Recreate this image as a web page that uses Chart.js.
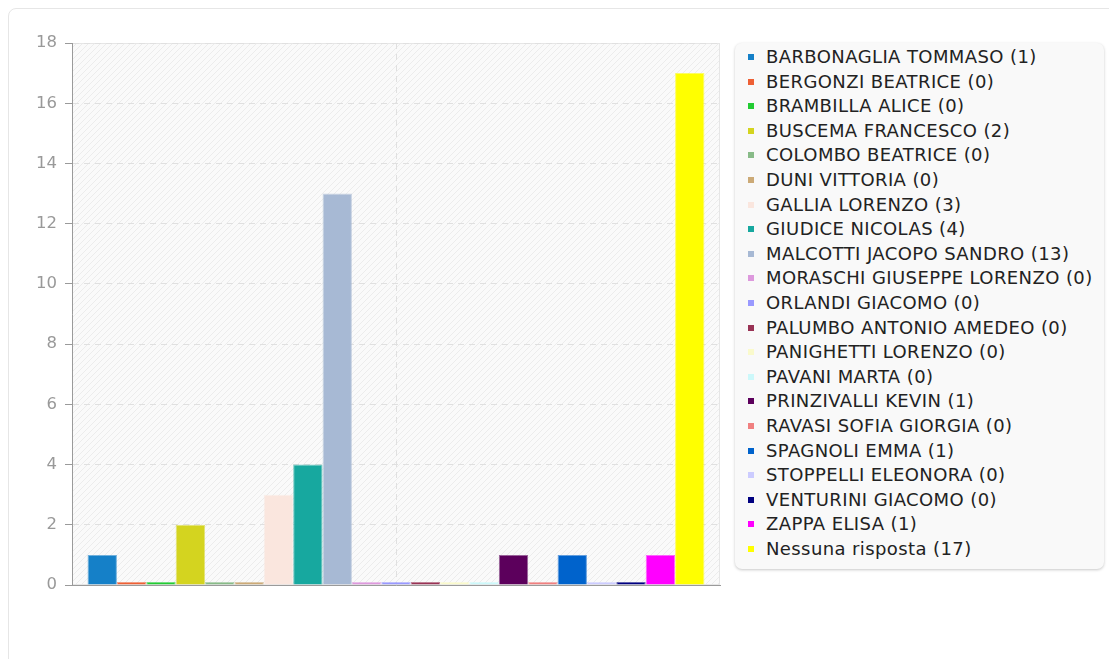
<!DOCTYPE html>
<html>
<head>
<meta charset="utf-8">
<script src="https://cdn.jsdelivr.net/npm/chart.js@4/dist/chart.umd.min.js"></script>
<style>
  html, body { margin: 0; padding: 0; background: #fff; overflow: hidden; }
  body { width: 1109px; height: 659px; position: relative; font-family: "DejaVu Sans", sans-serif; }
  #card {
    position: absolute; left: 8px; top: 8px; width: 1120px; height: 700px;
    border: 1px solid #e6e6e6; border-radius: 8px; box-sizing: border-box;
  }
  #wrap { position: absolute; left: 0; top: 0; width: 730px; height: 640px; }
  #legend {
    position: absolute; left: 735px; top: 43px; width: 369px; height: 526px;
    background: #f9f9f9; border-radius: 7px; box-shadow: 0 1px 3px rgba(0,0,0,0.22);
    box-sizing: border-box; padding-top: 2px;
  }
  .item { position: relative; height: 24.6px; line-height: 24.6px; font-size: 18px; letter-spacing: 0.4px; color: #222; white-space: nowrap; }
  .item .sw { position: absolute; left: 13px; top: 9px; width: 6px; height: 6px; }
  .item .tx { position: absolute; left: 31px; top: 0; }
</style>
</head>
<body>
<div id="card"></div>
<div id="wrap"><canvas id="chart"></canvas></div>
<div id="legend"></div>
<script>
// ---------- Data ----------
const names = [
  'BARBONAGLIA TOMMASO', 'BERGONZI BEATRICE', 'BRAMBILLA ALICE', 'BUSCEMA FRANCESCO',
  'COLOMBO BEATRICE', 'DUNI VITTORIA', 'GALLIA LORENZO', 'GIUDICE NICOLAS',
  'MALCOTTI JACOPO SANDRO', 'MORASCHI GIUSEPPE LORENZO', 'ORLANDI GIACOMO',
  'PALUMBO ANTONIO AMEDEO', 'PANIGHETTI LORENZO', 'PAVANI MARTA', 'PRINZIVALLI KEVIN',
  'RAVASI SOFIA GIORGIA', 'SPAGNOLI EMMA', 'STOPPELLI ELEONORA', 'VENTURINI GIACOMO',
  'ZAPPA ELISA', 'Nessuna risposta'
];
const counts = [1, 0, 0, 2, 0, 0, 3, 4, 13, 0, 0, 0, 0, 0, 1, 0, 1, 0, 0, 1, 17];
const colors = [
  '#1580c8', '#ee6035', '#22cc33', '#d4d41f', '#88bb88', '#ccaa77', '#fae6de',
  '#17a89f', '#a7b9d4', '#dd99dd', '#9999ff', '#993355', '#fafacc', '#ccf8fa',
  '#5c005c', '#f08080', '#0063cc', '#ccccff', '#000080', '#ff00ff', '#ffff00'
];
const yTicks = [0, 2, 4, 6, 8, 10, 12, 14, 16, 18];

// ---------- Hatched plot background ----------
function makeHatch() {
  const c = document.createElement('canvas');
  c.width = 6; c.height = 6;
  const g = c.getContext('2d');
  g.fillStyle = '#fafafa';
  g.fillRect(0, 0, 6, 6);
  g.strokeStyle = '#ececec';
  g.lineWidth = 1;
  g.beginPath();
  g.moveTo(-1, 7); g.lineTo(7, -1);
  g.moveTo(-1, 1); g.lineTo(1, -1);
  g.moveTo(5, 7); g.lineTo(7, 5);
  g.stroke();
  return c;
}

const plotBg = {
  id: 'plotBg',
  beforeDraw(chart) {
    const { ctx, chartArea: a } = chart;
    ctx.save();
    ctx.fillStyle = ctx.createPattern(makeHatch(), 'repeat');
    ctx.fillRect(a.left, a.top, a.right - a.left, a.bottom - a.top);
    ctx.strokeStyle = '#e6e6e6';
    ctx.lineWidth = 1;
    ctx.strokeRect(a.left + 0.5, a.top + 0.5, a.right - a.left - 1, a.bottom - a.top - 1);
    ctx.restore();
  }
};

// ---------- Chart ----------
new Chart(document.getElementById('chart'), {
  type: 'bar',
  data: {
    labels: [''],
    datasets: names.map((n, i) => ({
      label: `${n} (${counts[i]})`,
      data: [counts[i]],
      backgroundColor: colors[i],
      borderColor: colors[i] + '99',
      borderWidth: 1,
      minBarLength: 3,
      categoryPercentage: 0.952,
      barPercentage: 1
    }))
  },
  options: {
    responsive: true,
    maintainAspectRatio: false,
    animation: false,
    layout: { padding: { top: 43, right: 10, bottom: 55, left: 0 } },
    plugins: { legend: { display: false }, tooltip: { enabled: false } },
    scales: {
      x: {
        grid: { offset: false, color: '#e0e0e0', drawTicks: false },
        border: { color: '#9a9a9a', dash: [6, 5] },
        ticks: { display: false }
      },
      y: {
        min: 0, max: 18,
        afterFit: (s) => { s.width = 72; },
        afterBuildTicks: (s) => { s.ticks = yTicks.map(v => ({ value: v })); },
        grid: { color: '#e0e0e0', tickColor: '#9a9a9a', tickLength: 7, drawTicks: true },
        border: { color: '#9a9a9a', dash: [6, 5] },
        ticks: { color: '#999', font: { family: 'DejaVu Sans', size: 16.5 }, padding: 8 }
      }
    }
  },
  plugins: [plotBg]
});

// ---------- Legend ----------
const legendEl = document.getElementById('legend');
names.forEach((n, i) => {
  const row = document.createElement('div');
  row.className = 'item';
  row.innerHTML = `<span class="sw" style="background:${colors[i]}"></span><span class="tx">${n} (${counts[i]})</span>`;
  legendEl.appendChild(row);
});
</script>
</body>
</html>
